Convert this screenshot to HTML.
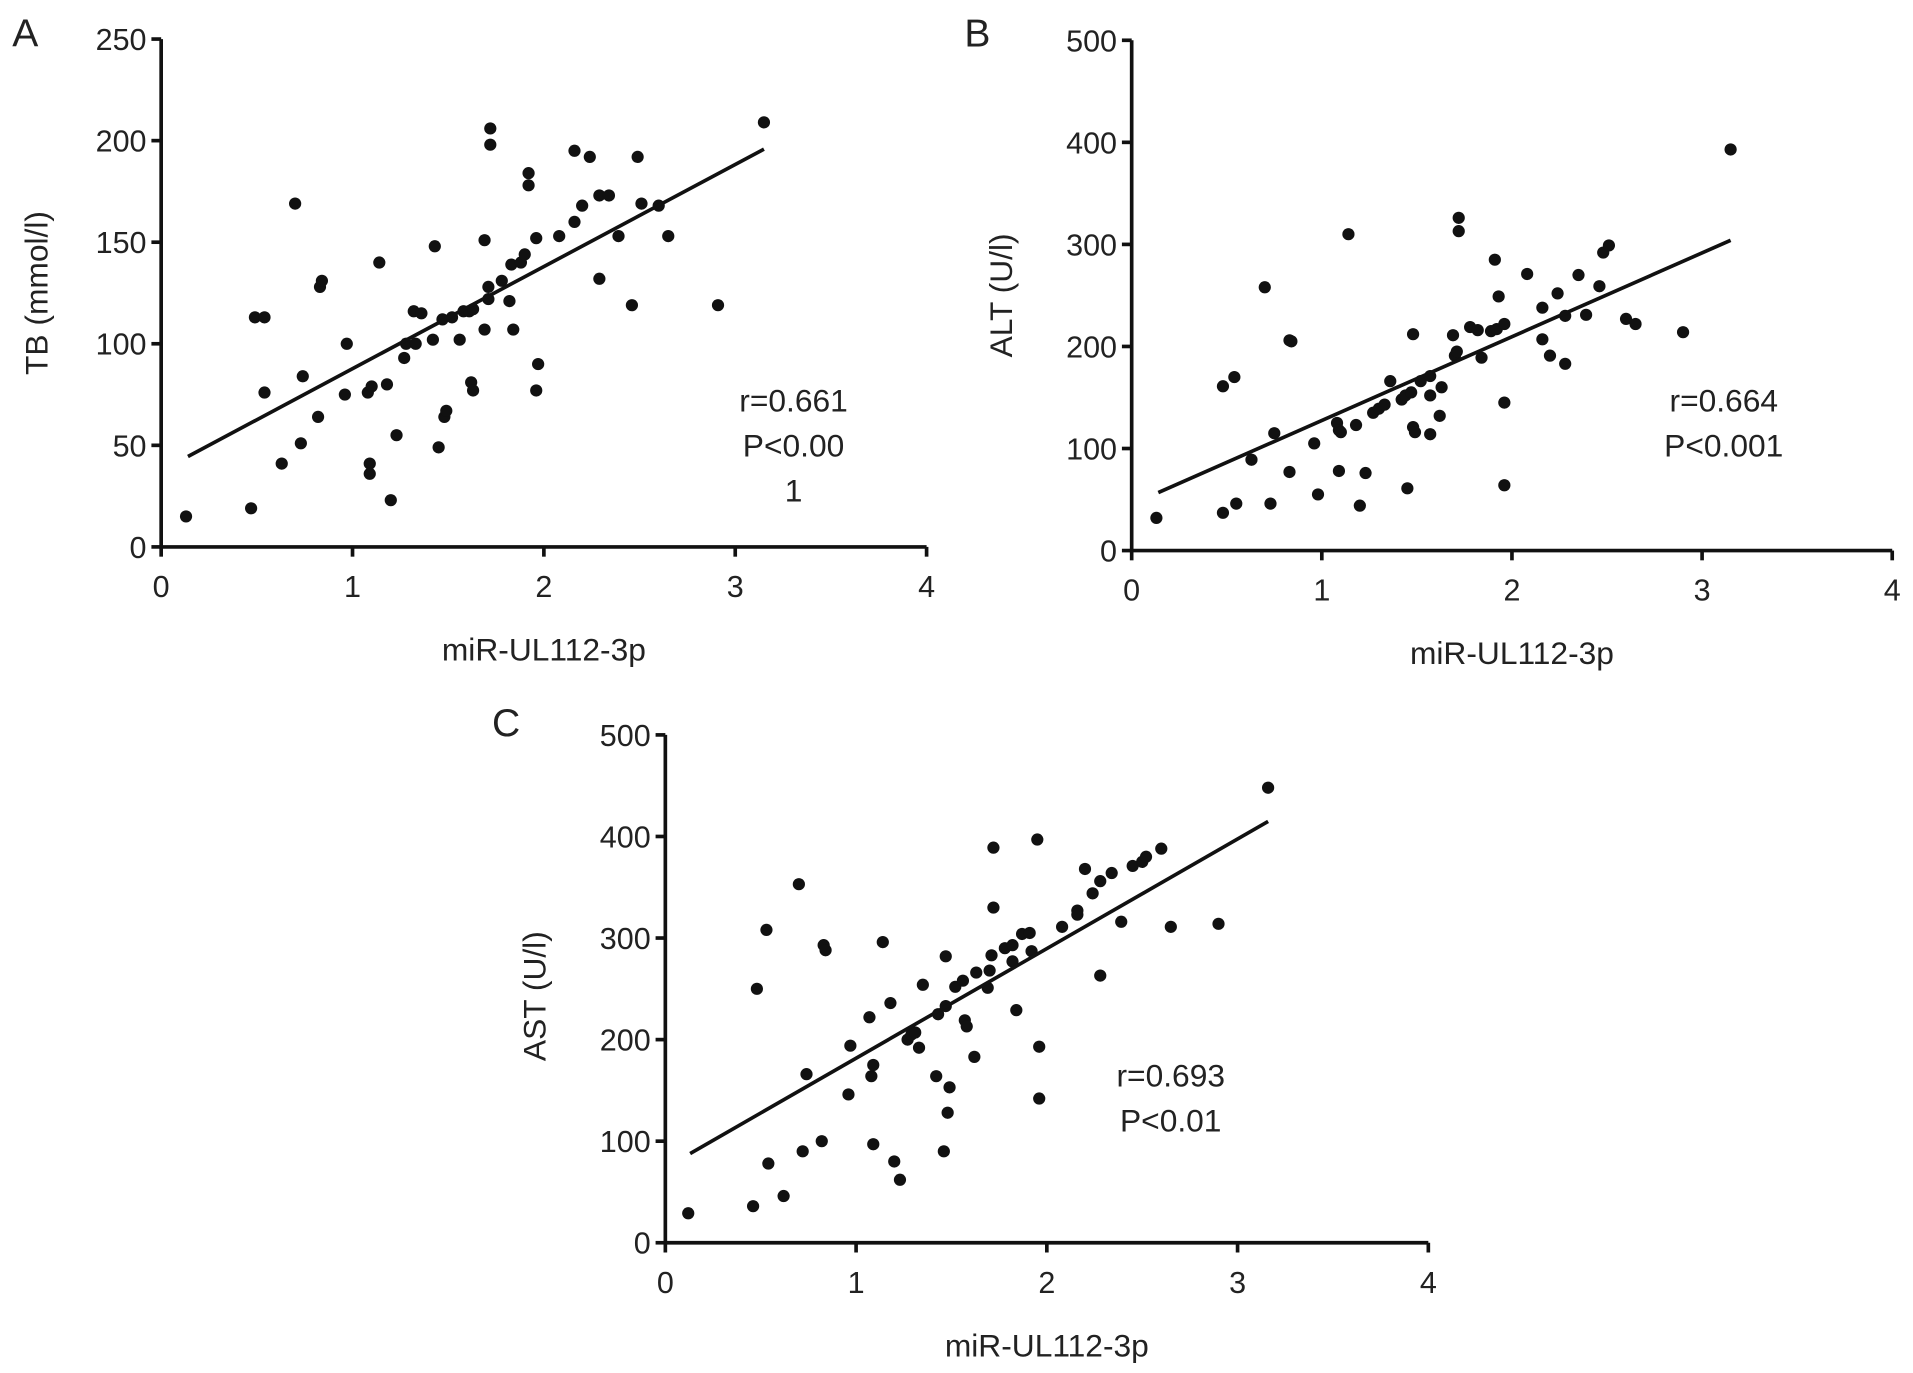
<!DOCTYPE html>
<html><head><meta charset="utf-8"><style>html,body{margin:0;padding:0;background:#fff}svg{display:block}text{font-family:"Liberation Sans",sans-serif;fill:#222}</style></head>
<body>
<svg id="fig" width="1913" height="1373" viewBox="0 0 1567 1124.7" xmlns="http://www.w3.org/2000/svg"></svg>
<script>
const xTicks=[0,1,2,3,4];
const yTicksA=[0,50,100,150,200,250];
const yTicksBC=[0,100,200,300,400,500];
const axA=[0.13,0.47,0.49,0.54,0.54,0.63,0.70,0.73,0.74,0.82,0.83,0.84,0.97,0.96,1.08,1.10,1.09,1.09,1.14,1.18,1.20,1.23,1.27,1.28,1.33,1.32,1.36,1.42,1.43,1.45,1.47,1.52,1.48,1.49,1.56,1.58,1.61,1.63,1.62,1.63,1.69,1.69,1.71,1.71,1.72,1.72,1.78,1.82,1.84,1.83,1.88,1.90,1.92,1.92,1.96,1.97,1.96,2.08,2.16,2.16,2.20,2.24,2.29,2.29,2.34,2.39,2.46,2.49,2.51,2.60,2.65,2.91,3.15];
const ayA=[15,19,113,113,76,41,169,51,84,64,128,131,100,75,76,79,41,36,140,80,23,55,93,100,100,116,115,102,148,49,112,113,64,67,102,116,116,117,81,77,151,107,128,122,206,198,131,121,107,139,140,144,184,178,152,90,77,153,160,195,168,192,132,173,173,153,119,192,169,168,153,119,209];
const fitXA=[0.14,3.15];
const fitYA=[44.5,195.8];
const bxB=[0.13,0.48,0.55,0.48,0.54,0.63,0.70,0.73,0.75,0.83,0.83,0.84,0.96,0.98,1.08,1.09,1.10,1.09,1.14,1.18,1.20,1.23,1.27,1.30,1.33,1.36,1.42,1.44,1.47,1.45,1.48,1.48,1.49,1.52,1.57,1.57,1.57,1.62,1.63,1.69,1.70,1.71,1.72,1.72,1.78,1.82,1.84,1.89,1.92,1.96,1.91,1.93,1.96,1.96,2.08,2.16,2.16,2.20,2.24,2.28,2.28,2.35,2.39,2.46,2.48,2.51,2.60,2.65,2.90,3.15];
const byB=[32,37,46,161,170,89,258,46,115,77,206,205,105,55,125,118,116,78,310,123,44,76,135,139,143,166,148,152,155,61,212,121,116,166,171,152,114,132,160,211,191,195,326,313,219,216,189,215,217,222,285,249,145,64,271,238,207,191,252,183,230,270,231,259,292,299,227,222,214,393];
const fitXB=[0.14,3.15];
const fitYB=[56.8,304];
const cxC=[0.12,0.46,0.54,0.48,0.53,0.62,0.70,0.72,0.74,0.82,0.83,0.84,0.96,0.97,1.07,1.08,1.09,1.09,1.14,1.18,1.20,1.23,1.27,1.29,1.31,1.33,1.35,1.42,1.43,1.47,1.46,1.47,1.48,1.49,1.52,1.56,1.57,1.58,1.62,1.63,1.69,1.70,1.71,1.72,1.72,1.78,1.82,1.82,1.84,1.87,1.91,1.92,1.95,1.96,1.96,2.08,2.16,2.16,2.20,2.24,2.28,2.34,2.28,2.39,2.45,2.50,2.52,2.60,2.65,2.90,3.16];
const cyC=[29,36,78,250,308,46,353,90,166,100,293,288,146,194,222,164,175,97,296,236,80,62,200,205,207,192,254,164,225,233,90,282,128,153,252,258,219,213,183,266,251,268,283,330,389,290,293,277,229,304,305,287,397,193,142,311,327,323,368,344,356,364,263,316,371,375,380,388,311,314,448];
const fitXC=[0.13,3.16];
const fitYC=[87.8,414.8];

const svg=document.getElementById('fig');
const NS='http://www.w3.org/2000/svg';
function mk(tag,attrs,parent){const e=document.createElementNS(NS,tag);for(const k in attrs)e.setAttribute(k,attrs[k]);parent.appendChild(e);return e;}

function panel(p){
  const g=mk('g',{},svg);
  
  
  const sx=v=>p.x0+v*p.xs, sy=v=>p.y0-v*p.ys;
  const top=sy(p.yTicks[p.yTicks.length-1]), right=sx(4);
  const ya=mk('line',{x1:p.x0,y1:top,x2:p.x0,y2:p.y0+1.5,stroke:'#111','stroke-width':3},g);
  
  
  const xa=mk('line',{x1:p.x0-1.5,y1:p.y0,x2:right,y2:p.y0,stroke:'#111','stroke-width':3},g);
  
  
  p.yTicks.forEach(v=>{
    mk('line',{x1:p.x0-8,y1:sy(v),x2:p.x0,y2:sy(v),stroke:'#111','stroke-width':3},g);
    const t=mk('text',{x:p.x0-12,y:sy(v)+9,'text-anchor':'end','font-size':25},g);
    
    
    t.textContent=v;
  });
  xTicks.forEach(v=>{
    mk('line',{x1:sx(v),y1:p.y0,x2:sx(v),y2:p.y0+8,stroke:'#111','stroke-width':3},g);
    const t=mk('text',{x:sx(v),y:p.y0+41,'text-anchor':'middle','font-size':25},g);
    
    
    t.textContent=v;
  });
  p.xs_.forEach((v,i)=>{
    const c=mk('circle',{cx:sx(v),cy:sy(p.ys_[i]),r:5,fill:'#111'},g);
    
    
  });
  const l=mk('line',{x1:sx(p.fx[0]),y1:sy(p.fy[0]),x2:sx(p.fx[1]),y2:sy(p.fy[1]),stroke:'#111','stroke-width':3},g);
  
  
  const lab=mk('text',{x:p.lab[0],y:p.lab[1],'font-size':32},g);
  
  
  lab.textContent=p.id;
  const yt=mk('text',{transform:`translate(${p.ytp[0]},${p.ytp[1]}) rotate(-90)`,'text-anchor':'middle','font-size':26},g);
  
  
  yt.textContent=p.yt;
  const xt=mk('text',{x:sx(2),y:p.y0+93,'text-anchor':'middle','font-size':26},g);
  
  
  xt.textContent='miR-UL112-3p';
  p.ann.forEach((s,i)=>{
    const a=mk('text',{x:p.annx,y:p.anny+i*37,'text-anchor':'middle','font-size':26},g);
    
    
    a.textContent=s;
  });
}
panel({id:'A',x0:132,xs:156.75,y0:448,ys:416/250,yTicks:yTicksA,xs_:axA,ys_:ayA,fx:fitXA,fy:fitYA,lab:[10,38],ytp:[39,240],yt:'TB (mmol/l)',ann:['r=0.661','P<0.00','1'],annx:650,anny:337});
panel({id:'B',x0:927,xs:155.75,y0:451,ys:418/500,yTicks:yTicksBC,xs_:bxB,ys_:byB,fx:fitXB,fy:fitYB,lab:[790,38],ytp:[829,242],yt:'ALT (U/l)',ann:['r=0.664','P<0.001'],annx:1412,anny:337});
panel({id:'C',x0:545,xs:156.25,y0:1018,ys:416/500,yTicks:yTicksBC,xs_:cxC,ys_:cyC,fx:fitXC,fy:fitYC,lab:[403,603],ytp:[447,816],yt:'AST (U/l)',ann:['r=0.693','P<0.01'],annx:959,anny:890});
</script>
</body></html>
